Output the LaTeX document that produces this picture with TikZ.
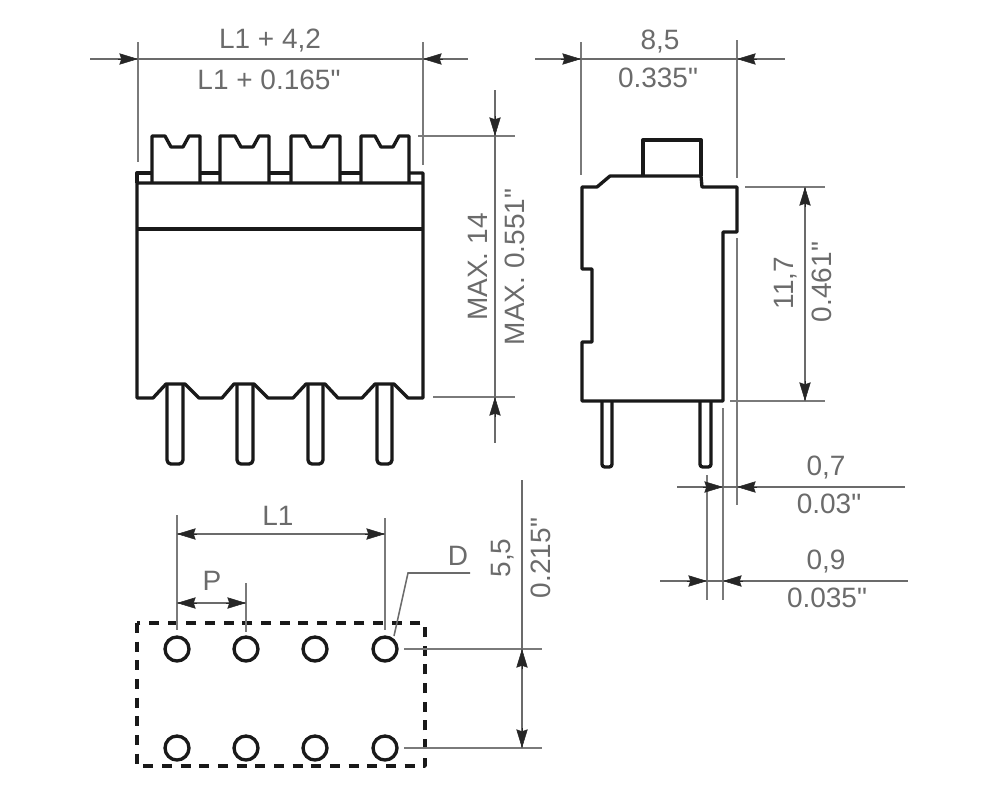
\documentclass[tikz,border=0pt]{standalone}
\usepackage{fontspec}
\setmainfont[Ligatures=TeXOff]{Liberation Sans}
\usetikzlibrary{arrows.meta}
\definecolor{dimgray}{gray}{0.42}
\tikzset{
	outline/.style={line width=2.5pt, black!90, line join=round},
	dimline/.style={line width=1.15pt, dimgray},
	extline/.style={line width=1.3pt, dimgray!90},
	tip/.style={-{Stealth[length=14pt,width=8.5pt,inset=1.5pt]}, line width=0.4pt, black!85},
	label/.style={text=dimgray, font=\fontsize{21}{21}\selectfont, inner sep=0pt},
	vlabel/.style={label, rotate=90}
}
\begin{document}
\begin{tikzpicture}[x=0.75pt, y=-0.75pt]
\useasboundingbox (0,0) rectangle (1000,800);
% Front view
\draw[outline] (137,183) -- (137,173) -- (152,173);
\draw[outline] (409,173) -- (423,173) -- (423,398) -- (408,398) -- (394,384) -- (375,384) -- (362,398) -- (338,398) -- (325,384) -- (306,384) -- (293,398) -- (268,398) -- (254,384) -- (234,384) -- (222,398) -- (199,398) -- (185,384) -- (166,384) -- (153,398) -- (137,398) -- (137,183) -- (423,183);
\draw[outline] (137,229) -- (423,229);
\foreach \a/\b in {200/220, 269/291, 340/361} \draw[outline] (\a,173) -- (\b,173);
% Connectors on top
\foreach \l/\r/\n in {152/200/165, 220/269/235, 291/340/305, 361/409/375}
	\draw[outline] (\l,183) -- (\l,136) -- (\n,136) -- (\n+6,147) -- (\n+18,147) -- (\n+24,136) -- (\r,136) -- (\r,183);
% Pins
\foreach \l/\r in {167/183, 237/253, 308/323, 377/392}
	\draw[outline, rounded corners=3pt] (\l,385) -- (\l,464) -- (\r,464) -- (\r,385);
% Front view dimensions
\draw[extline] (138,42) -- (138,162);
\draw[extline] (423,42) -- (423,165);
\draw[dimline] (90,59) -- (468,59);
\node[label] (lonemm) at (270,41) {L1 + 4,2};
\node[label] (loneinch) at (269,80) {L1 + 0.165"};
\draw[extline] (418,136) -- (515,136);
\draw[extline] (433,397) -- (515,397);
\draw[dimline] (495,90) -- (495,443);
\node[vlabel] (maxmm) at (478,267) {MAX. 14};
\node[vlabel] (maxinch) at (515,267) {MAX. 0.551"};
% Side view
\draw[outline] (643,176) -- (643,140) -- (701,140) -- (701,176);
\draw[outline] (582,187) -- (597,187) -- (610,176) -- (701,176) -- (702,187) -- (737,187) -- (737,232) -- (723,232) -- (723,401) -- (582,401) -- (582,342) -- (592,342) -- (592,269) -- (582,269) -- cycle;
\foreach \l/\r in {602/612, 700/711}
	\draw[outline, rounded corners=2pt] (\l,402) -- (\l,467) -- (\r,467) -- (\r,402);
% Side view dimensions
\draw[extline] (581,42) -- (581,175);
\draw[extline] (737,40) -- (737,178);
\draw[dimline] (535,59) -- (785,59);
\node[label] (widthmm) at (660,42) {8,5};
\node[label] (widthinch) at (658,78) {0.335"};
\draw[extline] (745,187) -- (825,187);
\draw[extline] (730,401) -- (825,401);
\draw[dimline] (805,187) -- (805,401);
\node[vlabel] (heightmm) at (786,283) {11,7};
\node[vlabel] (heightinch) at (822,282) {0.461"};
\draw[extline] (737,238) -- (737,505);
\draw[extline] (723,408) -- (723,600);
\draw[extline] (707,475) -- (707,600);
\draw[dimline] (677,487) -- (905,487);
\draw[dimline] (660,581) -- (908,581);
\node[label] (pinmm) at (826,468) {0,7};
\node[label] (pininch) at (829,504) {0.03"};
\node[label] (pitchmm) at (826,562) {0,9};
\node[label] (pitchinch) at (827,598) {0.035"};
% Footprint
\draw[outline, dash pattern=on 7.5pt off 6.5pt] (137,623) rectangle (425,766);
\foreach \x in {177,246,315,385}
	\foreach \y in {649,748}
		\draw[outline] (\x,\y) circle (9pt);
\draw[extline] (177,515) -- (177,630);
\draw[extline] (246,583) -- (246,632);
\draw[extline] (385,518) -- (385,630);
\draw[dimline] (177,534) -- (385,534);
\draw[dimline] (177,603) -- (246,603);
\node[label] (lone) at (278,516) {L1};
\node[label] (pitch) at (212,581) {P};
\draw[dimline] (394,636) -- (408,573) -- (470,573);
\node[label] (dia) at (458,556) {D};
\draw[extline] (404,649) -- (542,649);
\draw[extline] (404,748) -- (542,748);
\draw[dimline] (522,480) -- (522,748);
\node[vlabel] (rowmm) at (503,558) {5,5};
\node[vlabel] (rowinch) at (541,558) {0.215"};
% Arrow heads
\foreach \x/\y/\u/\v in {118/59/138/59, 443/59/423/59, 757/59/737/59, 561/59/581/59, 495/116/495/136, 495/417/495/397, 805/207/805/187, 805/381/805/401, 703/487/723/487, 757/487/737/487, 687/581/707/581, 743/581/723/581, 197/534/177/534, 365/534/385/534, 197/603/177/603, 226/603/246/603, 522/669/522/649, 522/728/522/748}
	\draw[tip] (\x,\y) -- (\u,\v);
\end{tikzpicture}
\end{document}
